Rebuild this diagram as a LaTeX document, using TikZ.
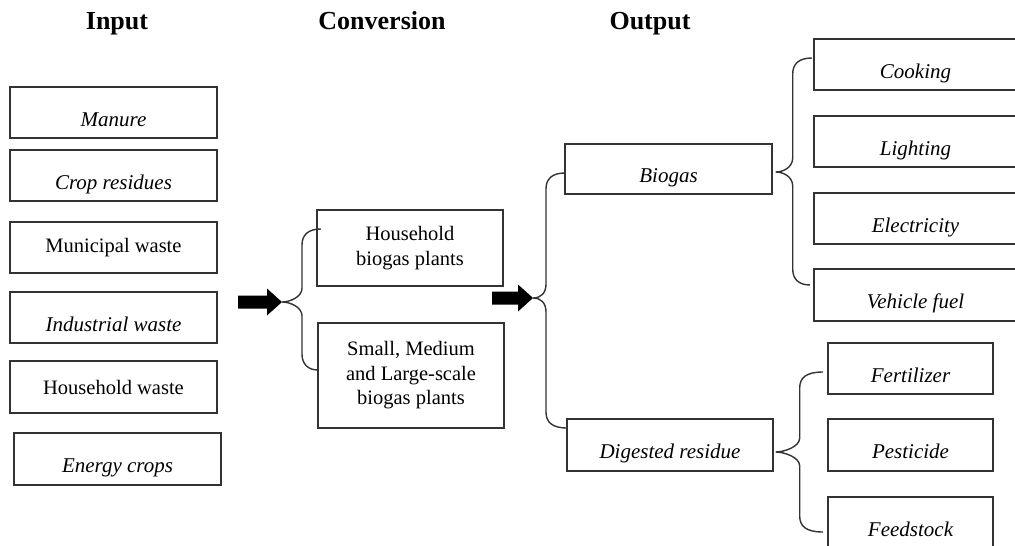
\documentclass[tikz,border=0pt]{standalone}
\usepackage{fontspec}
\setmainfont{Liberation Serif}
\usetikzlibrary{calc}
\newcommand\blockarrow[2]{%
  \fill[black] let \p1=(#1) in
    (\x1-#2pt,\y1+6.5pt) -- (\x1-15pt,\y1+6.5pt) -- (\x1-15pt,\y1+13.5pt) -- (\p1)
    -- (\x1-15pt,\y1-13.5pt) -- (\x1-15pt,\y1-6.5pt) -- (\x1-#2pt,\y1-6.5pt) -- cycle;}
\newcommand\drawbrace[4]{%
  \draw[conn] let \p1=(#1),\p2=(#3),\p3=(#4) in
    (\p2) .. controls (\x1+#2pt+6pt,\y2) and (\x1+#2pt,\y2-6pt) .. (\x1+#2pt,\y2-16pt)
    -- (\x1+#2pt,\y1+14pt) .. controls (\x1+#2pt,\y1+5pt) and (\x1+8pt,\y1) .. (\p1)
    .. controls (\x1+8pt,\y1) and (\x1+#2pt,\y1-5pt) .. (\x1+#2pt,\y1-14pt)
    -- (\x1+#2pt,\y3+16pt) .. controls (\x1+#2pt,\y3+6pt) and (\x1+#2pt+6pt,\y3) .. (\p3);}
\begin{document}
\begin{tikzpicture}[x=1pt,y=-1pt,
  box/.style={draw=black!80,line width=1.4pt,inner sep=0pt,font=\fontsize{20.5}{24.5}\selectfont,align=center},
  it/.style={font=\fontsize{21}{24}\selectfont\itshape,text height=27pt,text depth=0pt},
  head/.style={font=\fontsize{26}{30}\selectfont\bfseries,anchor=base},
  conn/.style={draw=black!80,line width=1.4pt},
  ]
\useasboundingbox (0,0) rectangle (1015,546);
% headers
\node[head] (hin) at (117,29.5) {Input};
\node[head] (hconv) at (382,29.5) {Conversion};
\node[head] (hout) at (650,29.5) {Output};
% input boxes
\node[box,it,minimum width=207pt,minimum height=51pt] (manure) at (113.5,112.5) {Manure};
\node[box,it,minimum width=207pt,minimum height=51pt] (crop) at (113.5,175.5) {Crop residues};
\node[box,minimum width=207pt,minimum height=51pt] (municipal) at (113.5,247.5) {Municipal waste};
\node[box,it,minimum width=207pt,minimum height=51pt] (industrial) at (113.5,317.5) {Industrial waste};
\node[box,minimum width=207pt,minimum height=52pt] (hwaste) at (113.5,387) {Household waste};
\node[box,it,minimum width=207pt,minimum height=52pt] (energy) at (117.5,459) {Energy crops};
% conversion boxes
\node[box,minimum width=186pt,minimum height=76pt] (hplant) at (410,248) {Household\\biogas plants};
\node[box,minimum width=186pt,minimum height=105pt] (splant) at (411,375.5) {Small, Medium\\and Large-scale\\biogas plants};
% output boxes
\node[box,it,minimum width=207pt,minimum height=50pt] (biogas) at (668.5,169) {Biogas};
\node[box,it,minimum width=206pt,minimum height=52pt] (digested) at (670,445) {Digested residue};
% biogas uses
\node[box,it,minimum width=203pt,minimum height=51pt] (cooking) at (915.5,64.5) {Cooking};
\node[box,it,minimum width=203pt,minimum height=51pt] (lighting) at (915.5,141.5) {Lighting};
\node[box,it,minimum width=203pt,minimum height=51pt] (electricity) at (915.5,218.5) {Electricity};
\node[box,it,minimum width=203pt,minimum height=52pt] (vehicle) at (915.5,295) {Vehicle fuel};
% residue uses
\node[box,it,minimum width=165pt,minimum height=51pt] (fertilizer) at (910.5,368.5) {Fertilizer};
\node[box,it,minimum width=165pt,minimum height=52pt] (pesticide) at (910.5,445) {Pesticide};
\node[box,it,minimum width=165pt,minimum height=51pt] (feedstock) at (910.5,522.5) {Feedstock};
% arrows
\coordinate (a1) at (282,302);
\coordinate (a2) at (533,298);
\blockarrow{a1}{44}
\blockarrow{a2}{41}
% brace ends
\coordinate (b1top) at (321,229);
\coordinate (b1bot) at (318,370);
\coordinate (b2top) at (565,173);
\coordinate (b2bot) at (567,428);
\coordinate (b3tip) at ([xshift=3pt,yshift=-3pt]biogas.east);
\coordinate (b3top) at (812,58);
\coordinate (b3bot) at (810,285);
\coordinate (b4tip) at ([xshift=2pt,yshift=-7pt]digested.east);
\coordinate (b4top) at (823,372);
\coordinate (b4bot) at (823,532);
\drawbrace{a1}{20}{b1top}{b1bot}
\drawbrace{a2}{13}{b2top}{b2bot}
\drawbrace{b3tip}{17}{b3top}{b3bot}
\drawbrace{b4tip}{24}{b4top}{b4bot}
\end{tikzpicture}
\end{document}
